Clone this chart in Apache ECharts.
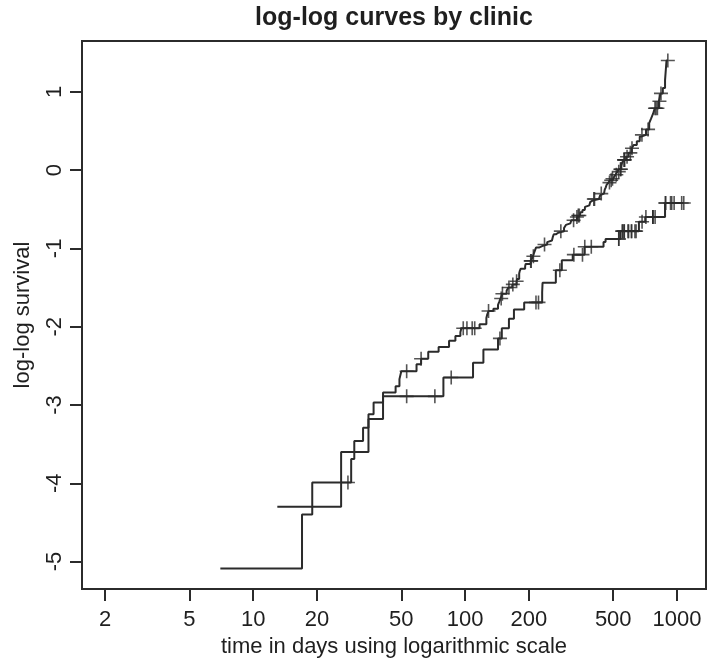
<!DOCTYPE html>
<html>
<head>
<meta charset="utf-8">
<script src="https://cdn.jsdelivr.net/npm/echarts@6/dist/echarts.min.js"></script>
<style>
  html, body { margin: 0; padding: 0; background: #fff; }
  #chart { width: 709px; height: 663px; }
</style>
</head>
<body>
<div id="chart"></div>
<script>
// Clinic 1: step times (days) and log(-log S(t)) after each step
const clinic1Time = [7,17,19,29,30,33,35,37,41,47,49,50,59,62,67,75,84,90,95,96,
  117,126,127,129,136,143,145,147,150,157,160,167,175,176,180,181,183,192,193,204,
  207,209,212,216,223,231,244,247,257,259,262,268,275,293,294,299,302,314,317,337,
  341,348,350,358,367,368,376,386,389,393,399,428,434,438,452,456,461,465,475,482,
  496,504,512,518,523,532,546,550,560,575,591,612,624,646,667,683,714,739,755,771,
  785,821,836,857,878,892,905];
const clinic1LogLog = [-5.09,-4.40,-3.99,-3.69,-3.46,-3.29,-3.12,-2.97,-2.84,-2.76,
  -2.67,-2.57,-2.48,-2.41,-2.32,-2.26,-2.18,-2.12,-2.07,-2.02,
  -1.97,-1.89,-1.85,-1.80,-1.77,-1.72,-1.68,-1.64,-1.58,-1.54,
  -1.50,-1.46,-1.42,-1.39,-1.32,-1.29,-1.26,-1.23,-1.20,-1.16,
  -1.13,-1.10,-1.05,-0.99,-0.97,-0.95,-0.92,-0.90,-0.88,-0.86,
  -0.82,-0.80,-0.78,-0.74,-0.72,-0.70,-0.68,-0.66,-0.64,-0.60,
  -0.58,-0.56,-0.54,-0.51,-0.49,-0.47,-0.45,-0.43,-0.41,-0.39,
  -0.37,-0.35,-0.32,-0.30,-0.28,-0.25,-0.22,-0.19,-0.16,-0.13,
  -0.11,-0.09,-0.06,-0.04,-0.02,0.01,0.05,0.09,0.13,0.17,
  0.22,0.28,0.32,0.37,0.43,0.45,0.52,0.60,0.66,0.72,
  0.79,0.88,0.98,1.05,1.15,1.40,1.40];
// Clinic 1: censoring times
const clinic1Censored = [28,53,62,98,102,108,111,129,148,150,161,168,175,204,205,210,
  237,283,325,337,342,346,405,408,439,480,489,496,517,531,541,543,563,564,566,581,
  602,613,683,730,787,796,808,826,840,905];

// Clinic 2
const clinic2Time = [13,26,35,41,79,109,122,143,149,161,170,190,231,232,268,286,322,
  366,450,460,540,661,708,878,1076];
const clinic2LogLog = [-4.30,-3.60,-3.18,-2.89,-2.65,-2.46,-2.29,-2.15,-2.02,-1.90,
  -1.78,-1.69,-1.56,-1.44,-1.28,-1.15,-1.08,-0.98,-0.92,-0.88,-0.78,-0.66,-0.60,
  -0.42,-0.42];
const clinic2Censored = [53,72,86,146,216,222,280,326,358,367,394,531,531,551,555,563,
  564,587,591,609,611,633,641,684,713,769,769,769,788,881,884,932,944,969,1052,1076];

// Axis ticks
const xTicks = [2,5,10,20,50,100,200,500,1000];
const yTicks = [-5,-4,-3,-2,-1,0,1];

const INK = '#2b2b2b';
const TEXT = '#1f1f1f';
const FONT = 'Liberation Sans, Arial, Helvetica, sans-serif';

function curvePoints(times, values) {
  return times.map((t, i) => [t, values[i]]);
}
// height of the step curve at time t (value of the last step at or before t)
function curveAt(times, values, t) {
  let v = values[0];
  for (let i = 0; i < times.length; i++) {
    if (times[i] <= t) v = values[i];
  }
  return v;
}
function censorPoints(cens, times, values) {
  return cens.map(t => [t, curveAt(times, values, t)]);
}

const plusSymbol = 'path://M0,7L14,7M7,0L7,14';

const lineStyle = { color: INK, width: 2 };
const markStyle = { color: 'rgba(0,0,0,0)', borderColor: INK, borderWidth: 1.6 };

const chart = echarts.init(document.getElementById('chart'), null, { renderer: 'canvas' });
chart.setOption({
  animation: false,
  backgroundColor: '#ffffff',
  graphic: [{
    type: 'text',
    x: 394, y: 18,
    style: {
      text: 'log-log curves by clinic',
      textAlign: 'center', textVerticalAlign: 'middle',
      font: 'bold 25px ' + FONT, fill: TEXT
    }
  }],
  grid: {
    left: 82, top: 41, right: 3, bottom: 72,
    show: true, borderColor: INK, borderWidth: 2, backgroundColor: 'transparent'
  },
  xAxis: {
    type: 'log', logBase: 10, min: 1.557, max: 1370,
    name: 'time in days using logarithmic scale',
    nameLocation: 'middle', nameGap: 32,
    nameTextStyle: { fontFamily: FONT, fontSize: 22, color: TEXT },
    axisLine: { show: false, onZero: false },
    axisTick: { show: true, length: 12, customValues: xTicks, lineStyle: { color: INK, width: 2 } },
    axisLabel: { customValues: xTicks, margin: 20, fontFamily: FONT, fontSize: 22, color: TEXT,
      formatter: v => String(Math.round(v)) },
    splitLine: { show: false }, minorTick: { show: false }
  },
  yAxis: {
    type: 'value', min: -5.352, max: 1.649,
    name: 'log-log survival',
    nameLocation: 'middle', nameGap: 48,
    nameTextStyle: { fontFamily: FONT, fontSize: 22, color: TEXT },
    axisLine: { show: false, onZero: false },
    axisTick: { show: true, length: 12, customValues: yTicks, lineStyle: { color: INK, width: 2 } },
    axisLabel: { customValues: yTicks, rotate: 90, margin: 16, fontFamily: FONT, fontSize: 22, color: TEXT },
    splitLine: { show: false }
  },
  series: [
    { name: 'clinic 1', type: 'line', step: 'end', showSymbol: false,
      data: curvePoints(clinic1Time, clinic1LogLog), lineStyle },
    { name: 'clinic 2', type: 'line', step: 'end', showSymbol: false,
      data: curvePoints(clinic2Time, clinic2LogLog), lineStyle },
    { name: 'clinic 1 censored', type: 'scatter', symbol: plusSymbol, symbolSize: 14,
      data: censorPoints(clinic1Censored, clinic1Time, clinic1LogLog), itemStyle: markStyle },
    { name: 'clinic 2 censored', type: 'scatter', symbol: plusSymbol, symbolSize: 14,
      data: censorPoints(clinic2Censored, clinic2Time, clinic2LogLog), itemStyle: markStyle }
  ]
});
</script>
</body>
</html>
